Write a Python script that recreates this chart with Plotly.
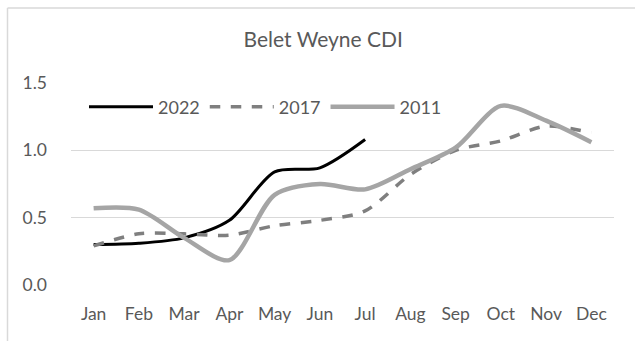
import plotly.graph_objects as go

months = ["Jan", "Feb", "Mar", "Apr", "May", "Jun", "Jul", "Aug", "Sep", "Oct", "Nov", "Dec"]
cdi_2022 = [0.30, 0.31, 0.35, 0.48, 0.84, 0.87, 1.08]
cdi_2017 = [0.29, 0.38, 0.38, 0.37, 0.44, 0.48, 0.55, 0.82, 1.00, 1.07, 1.18, 1.13]
cdi_2011 = [0.57, 0.56, 0.35, 0.185, 0.67, 0.75, 0.71, 0.86, 1.02, 1.33, 1.22, 1.06]
y_ticks = [0.0, 0.5, 1.0, 1.5]
y_tick_text = ["0.0", "0.5", "1.0", "1.5"]

W, H = 635, 341
L, R, T, B = 71, 21, 83, 56
pw, ph = W - L - R, H - T - B

font_family = "Lato, 'Open Sans', sans-serif"
txt_color = "#595959"

fig = go.Figure()
fig.add_trace(go.Scatter(x=months[:len(cdi_2022)], y=cdi_2022, name="2022", mode="lines",
                         line=dict(color="#000000", width=3, shape="spline", smoothing=0.8)))
fig.add_trace(go.Scatter(x=months, y=cdi_2017, name="2017", mode="lines",
                         line=dict(color="#7f7f7f", width=3.5, dash="dash", shape="spline", smoothing=0.8)))
fig.add_trace(go.Scatter(x=months, y=cdi_2011, name="2011", mode="lines",
                         line=dict(color="#a5a5a5", width=4.5, shape="spline", smoothing=0.8)))

def px_to_paper_x(px):
    return (px - L) / pw

def px_to_paper_y(py):
    return (H - B - py) / ph

fig.update_layout(
    width=W, height=H,
    margin=dict(l=L, r=R, t=T, b=B),
    paper_bgcolor="white", plot_bgcolor="white",
    font=dict(family=font_family, size=17, color=txt_color),
    title=dict(text="Belet Weyne CDI", x=0.509, xref="container", y=1 - 39.5 / H, yref="container",
               xanchor="center", yanchor="middle", font=dict(size=21, color=txt_color)),
    xaxis=dict(type="category", categoryorder="array", categoryarray=months,
               showgrid=False, showline=False, ticks="", zeroline=False,
               tickfont=dict(size=17.5, color=txt_color), range=[-0.5, 11.5],
               ticklabelstandoff=16),
    yaxis=dict(range=[0, 1.5], tickvals=y_ticks, ticktext=y_tick_text, showgrid=True,
               gridcolor="#d9d9d9", gridwidth=1, zeroline=False, showline=False, ticks="",
               tickfont=dict(size=17.5, color=txt_color), ticklabelstandoff=23),
    showlegend=True,
    legend=dict(orientation="h", x=px_to_paper_x(84), xanchor="left", y=px_to_paper_y(107), yanchor="middle",
                bgcolor="rgba(0,0,0,0)", font=dict(size=18, color=txt_color), itemwidth=64,
                tracegroupgap=0),
    shapes=[
        dict(type="line", xref="paper", yref="paper", x0=px_to_paper_x(7.5), x1=px_to_paper_x(7.5),
             y0=px_to_paper_y(8), y1=px_to_paper_y(H + 5), line=dict(color="#d9d9d9", width=1.5)),
        dict(type="line", xref="paper", yref="paper", x0=px_to_paper_x(7.5), x1=px_to_paper_x(W + 5),
             y0=px_to_paper_y(8), y1=px_to_paper_y(8), line=dict(color="#d9d9d9", width=1.5)),
    ],
)

fig.write_html("out.html")
